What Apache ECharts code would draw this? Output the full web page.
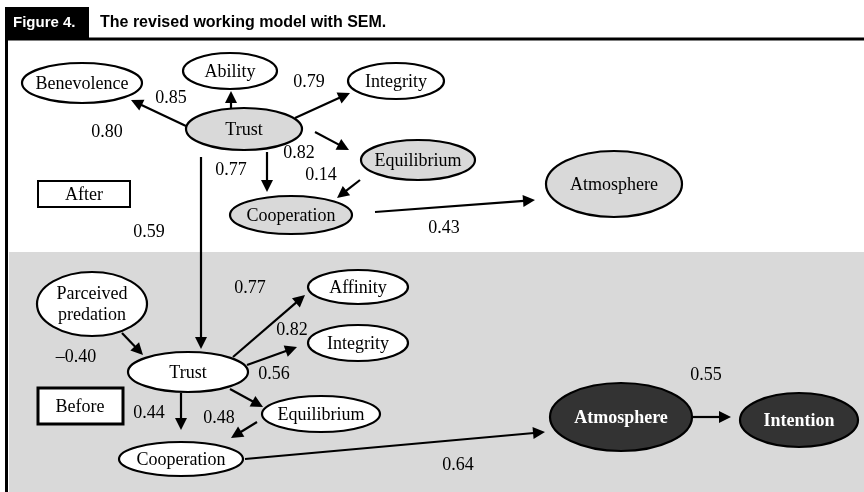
<!DOCTYPE html>
<html>
<head>
<meta charset="utf-8">
<script src="https://cdn.jsdelivr.net/npm/echarts@6/dist/echarts.min.js"></script>
<style>
  html, body { margin: 0; padding: 0; background: #fff; }
  #chart { width: 864px; height: 492px; }
</style>
</head>
<body>
<div id="chart"></div>
<script>
// nodos del modelo (centro y tamaño en coordenadas de la figura)
const nodeLabels = ['Benevolence', 'Ability', 'Integrity', 'Trust', 'Equilibrium', 'Cooperation', 'Atmosphere',
    'Parceived\npredation', 'Trust', 'Affinity', 'Integrity', 'Equilibrium', 'Cooperation', 'Atmosphere', 'Intention'];
const nodeX = [82, 230, 396, 244, 418, 291, 614, 92, 188, 358, 358, 321, 181, 621, 799];
const nodeY = [83, 71, 81, 129, 160, 215, 184, 304, 372, 287, 343, 414, 459, 417, 420];
const nodeW = [120, 94, 96, 116, 114, 122, 136, 110, 120, 100, 100, 118, 124, 142, 118];
const nodeH = [40, 36, 36, 42, 40, 38, 66, 64, 40, 34, 36, 36, 34, 68, 54];
const nodeKind = ['plain', 'plain', 'plain', 'shaded', 'shaded', 'shaded', 'shaded',
    'plain', 'plain', 'plain', 'plain', 'plain', 'plain', 'dark', 'dark'];

// flechas: desde (x1,y1) hasta la punta (x2,y2)
const arrowX1 = [186, 231, 295, 315, 267, 360, 375, 201, 122, 233, 247, 230, 181, 257, 245, 693];
const arrowY1 = [126, 110, 118, 132, 152, 180, 212, 157, 333, 357, 365, 389, 393, 422, 459, 417];
const arrowX2 = [131, 231, 350, 349, 267, 337, 535, 201, 143, 305, 297, 263, 181, 231, 545, 731];
const arrowY2 = [100, 91, 93, 150, 192, 198, 200, 349, 355, 295, 347, 407, 430, 438, 432, 417];

// coeficientes
const coefText = ['0.85', '0.79', '0.80', '0.82', '0.77', '0.14', '0.59', '0.43',
    '0.77', '0.82', '\u20130.40', '0.56', '0.44', '0.48', '0.55', '0.64'];
const coefX = [171, 309, 107, 299, 231, 321, 149, 444, 250, 292, 76, 274, 149, 219, 706, 458];
const coefY = [98, 82, 132, 153, 170, 175, 232, 228, 288, 330, 357, 374, 413, 418, 375, 465];

const serif = '"Liberation Serif", "Times New Roman", serif';
const sans = '"Liberation Sans", Arial, sans-serif';
const kindStyle = {
    plain: { fill: '#ffffff', text: '#000', weight: 'normal' },
    shaded: { fill: '#d9d9d9', text: '#000', weight: 'normal' },
    dark: { fill: '#333333', text: '#ffffff', weight: 'bold' }
};

const chart = echarts.init(document.getElementById('chart'));

function renderNode(params, api) {
    const i = api.value(4);
    const c = api.coord([api.value(0), api.value(1)]);
    const s = api.size([api.value(2), api.value(3)]);
    const st = kindStyle[nodeKind[i]];
    return {
        type: 'group',
        children: [{
            type: 'ellipse',
            shape: { cx: c[0], cy: c[1], rx: s[0] / 2, ry: s[1] / 2 },
            style: { fill: st.fill, stroke: '#000', lineWidth: 2.2 }
        }, {
            type: 'text',
            style: {
                text: nodeLabels[i], x: c[0], y: c[1] + 1, align: 'center', verticalAlign: 'middle',
                font: st.weight + ' 18px ' + serif, fill: st.text, lineHeight: 21
            }
        }]
    };
}

function renderArrow(params, api) {
    const p1 = api.coord([api.value(0), api.value(1)]);
    const p2 = api.coord([api.value(2), api.value(3)]);
    const dx = p2[0] - p1[0], dy = p2[1] - p1[1];
    const len = Math.sqrt(dx * dx + dy * dy);
    const ux = dx / len, uy = dy / len;
    const hl = 12, hw = 6;
    const bx = p2[0] - ux * hl, by = p2[1] - uy * hl;
    return {
        type: 'group',
        children: [{
            type: 'line',
            shape: { x1: p1[0], y1: p1[1], x2: bx + ux, y2: by + uy },
            style: { stroke: '#000', lineWidth: 2.2 }
        }, {
            type: 'polygon',
            shape: { points: [[p2[0], p2[1]], [bx - uy * hw, by + ux * hw], [bx + uy * hw, by - ux * hw]] },
            style: { fill: '#000' }
        }]
    };
}

function renderCoef(params, api) {
    const c = api.coord([api.value(0), api.value(1)]);
    return {
        type: 'text',
        style: {
            text: coefText[api.value(2)], x: c[0], y: c[1], align: 'center', verticalAlign: 'middle',
            font: '18px ' + serif, fill: '#000'
        }
    };
}

const option = {
    animation: false,
    grid: { left: 0, right: 0, top: 0, bottom: 0 },
    xAxis: { type: 'value', min: 0, max: 864, show: false },
    yAxis: { type: 'value', min: 0, max: 492, inverse: true, show: false },
    graphic: [
        { type: 'rect', shape: { x: 9, y: 252, width: 855, height: 240 }, style: { fill: '#d9d9d9' } },
        { type: 'rect', shape: { x: 5, y: 7, width: 84, height: 31 }, style: { fill: '#000' } },
        { type: 'text', style: { text: 'Figure 4.', x: 13, y: 23, verticalAlign: 'middle', font: 'bold 15px ' + sans, fill: '#fff' } },
        { type: 'text', style: { text: 'The revised working model with SEM.', x: 100, y: 23, verticalAlign: 'middle', font: 'bold 16px ' + sans, fill: '#000' } },
        { type: 'line', shape: { x1: 5, y1: 39, x2: 864, y2: 39 }, style: { stroke: '#000', lineWidth: 3 } },
        { type: 'line', shape: { x1: 6.5, y1: 38, x2: 6.5, y2: 492 }, style: { stroke: '#000', lineWidth: 3 } },
        { type: 'rect', shape: { x: 38, y: 181, width: 92, height: 26 }, style: { fill: '#fff', stroke: '#000', lineWidth: 2 } },
        { type: 'text', style: { text: 'After', x: 84, y: 195, align: 'center', verticalAlign: 'middle', font: '18px ' + serif, fill: '#000' } },
        { type: 'rect', shape: { x: 38, y: 388, width: 85, height: 36 }, style: { fill: '#fff', stroke: '#000', lineWidth: 3 } },
        { type: 'text', style: { text: 'Before', x: 80, y: 407, align: 'center', verticalAlign: 'middle', font: '18px ' + serif, fill: '#000' } }
    ],
    series: [{
        type: 'custom',
        name: 'arrows',
        renderItem: renderArrow,
        data: arrowX1.map((x, i) => [x, arrowY1[i], arrowX2[i], arrowY2[i]]),
        z: 2
    }, {
        type: 'custom',
        name: 'nodes',
        renderItem: renderNode,
        data: nodeX.map((x, i) => [x, nodeY[i], nodeW[i], nodeH[i], i]),
        z: 3
    }, {
        type: 'custom',
        name: 'coefs',
        renderItem: renderCoef,
        data: coefX.map((x, i) => [x, coefY[i], i]),
        z: 4
    }]
};

chart.setOption(option);
</script>
</body>
</html>
